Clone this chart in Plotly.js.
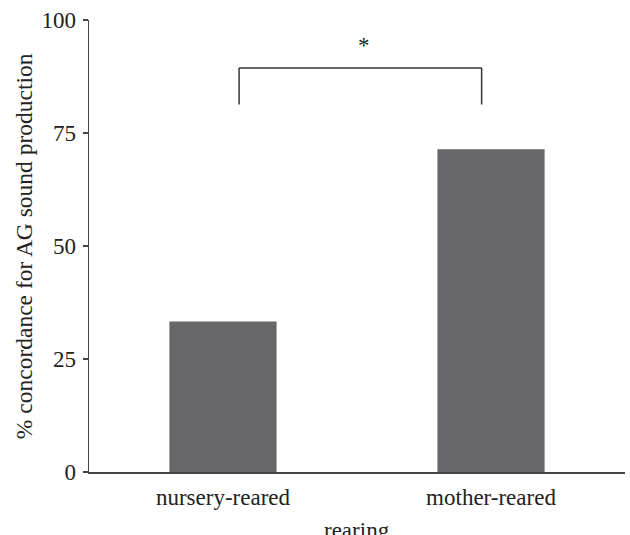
<!DOCTYPE html>
<html>
<head>
<meta charset="utf-8">
<script src="https://cdn.plot.ly/plotly-3.0.1.min.js"></script>
<style>html,body{margin:0;padding:0;background:#fff;}#chart{width:630px;height:535px;}</style>
</head>
<body>
<div id="chart"></div>
<script>
var categories = ["nursery-reared", "mother-reared"];
var concordance = [33.3, 71.4];
var yTicks = [0, 25, 50, 75, 100];
var sigLabel = "*";
var xTitle = "rearing";
var yTitle = "% concordance for AG sound production";

var font = "Liberation Serif, Times New Roman, serif";
var txt = "#222";
var trace = {
  type: "bar",
  x: categories,
  y: concordance,
  width: 0.4,
  marker: {color: "#68686b", line: {width: 0}},
  hoverinfo: "x+y"
};
var layout = {
  width: 630, height: 535,
  margin: {l: 89, r: 5, t: 20, b: 63},
  paper_bgcolor: "#fff", plot_bgcolor: "#fff",
  font: {family: font, size: 23, color: txt},
  showlegend: false,
  xaxis: {
    type: "category",
    range: [-0.5, 1.5],
    showline: true, linecolor: "#444", linewidth: 1.5,
    ticks: "", showgrid: false, zeroline: false,
    ticklabelstandoff: 4,
    tickfont: {family: font, size: 23, color: txt}
  },
  yaxis: {
    range: [0, 100],
    tickvals: yTicks,
    showline: true, linecolor: "#444", linewidth: 1.5,
    ticks: "outside", ticklen: 5, tickwidth: 1.5, tickcolor: "#444",
    showgrid: false, zeroline: false,
    ticklabelstandoff: 2,
    tickfont: {family: font, size: 23, color: txt}
  },
  shapes: [
    {type: "line", xref: "x", yref: "y", x0: 0.06, x1: 0.965, y0: 89.4, y1: 89.4, line: {color: "#333", width: 1.5}},
    {type: "line", xref: "x", yref: "y", x0: 0.06, x1: 0.06, y0: 89.4, y1: 81.3, line: {color: "#333", width: 1.5}},
    {type: "line", xref: "x", yref: "y", x0: 0.965, x1: 0.965, y0: 89.4, y1: 81.3, line: {color: "#333", width: 1.5}}
  ],
  annotations: [
    {xref: "x", yref: "y", x: 0.525, y: 94.3, text: sigLabel, showarrow: false, font: {family: font, size: 23, color: txt}},
    {xref: "paper", yref: "paper", x: 0.5, y: -0.13, xanchor: "center", yanchor: "middle", text: xTitle, showarrow: false, font: {family: font, size: 23, color: txt}},
    {xref: "paper", yref: "paper", x: -0.121, y: 0.5, xanchor: "center", yanchor: "middle", textangle: -90, text: yTitle, showarrow: false, font: {family: font, size: 23.5, color: txt}}
  ]
};
Plotly.newPlot("chart", [trace], layout, {displayModeBar: false, staticPlot: true});
</script>
</body>
</html>
